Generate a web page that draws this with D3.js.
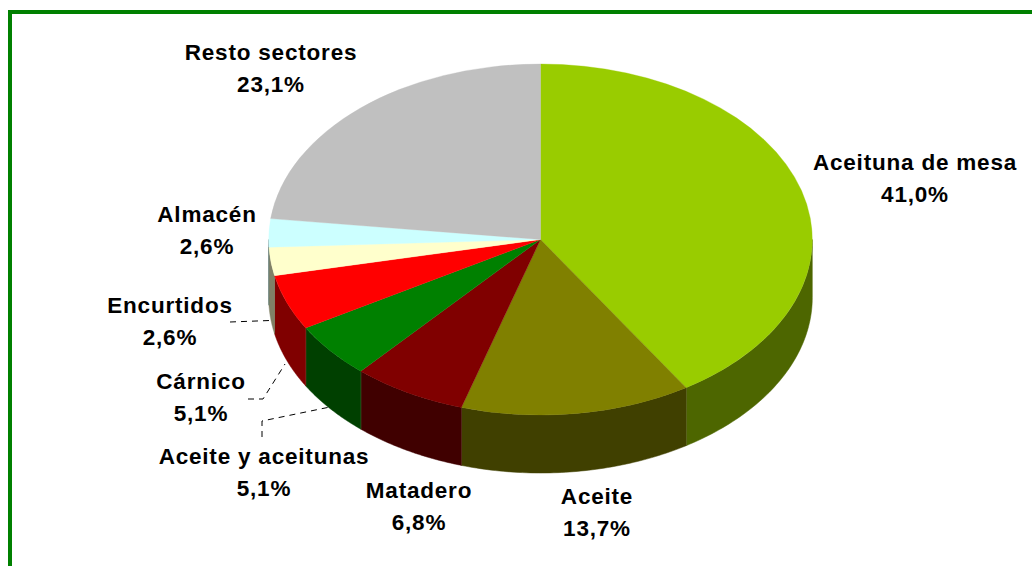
<!DOCTYPE html>
<html><head><meta charset="utf-8">
<script src="https://cdn.jsdelivr.net/npm/d3@7/dist/d3.min.js"></script>
<style>html,body{margin:0;padding:0;background:#fff}svg{display:block}
text{font-family:"Liberation Sans",Arial,sans-serif;font-weight:bold;font-size:22.5px;letter-spacing:0.8px;fill:#000;text-anchor:middle}</style>
</head><body><svg id="c" width="1032" height="566"></svg>
<script>
const categories=["Aceituna de mesa","Aceite","Matadero","Aceite y aceitunas","Cárnico","Encurtidos","Almacén","Resto sectores"];
const values=[41.0,13.7,6.8,5.1,5.1,2.6,2.6,23.1];
const valueLabels=["41,0%","13,7%","6,8%","5,1%","5,1%","2,6%","2,6%","23,1%"];
const topColors=["#99CC00","#808000","#800000","#008000","#FF0000","#FFFFCC","#CCFFFF","#C0C0C0"];
const sideColors=["#4D6600","#404000","#400000","#004000","#800000","#808066","#668080","#606060"];
const labelCenters=[[915,162.5],[597,496.5],[419,490.5],[264,456.5],[201,381.5],[170,305.5],[207,214.5],[271,52.5]];
const leaderLines=[
  [[230,322],[270,320.5]],
  [[248,399],[263,399],[285,364]],
  [[262,437],[262,421],[330,407]]
];
const cx=540.5,cy=239.5,rx=271.8,ry=175.5,depth=58;

const svg=d3.select("#c");
// frame (only the top and left edges are inside the picture)
svg.append("path").attr("d","M10,566V12H1032").attr("fill","none").attr("stroke","#008000").attr("stroke-width",4);

const arcs=d3.pie().sort(null).value(d=>d)(values);
const px=a=>cx+rx*Math.sin(a), py=a=>cy-ry*Math.cos(a);

// outer walls, only where they face the viewer (PI/2 .. 3PI/2 clockwise from top)
const walls=svg.append("g");
arcs.forEach((d,i)=>{
  const a0=Math.max(d.startAngle,Math.PI/2), a1=Math.min(d.endAngle,3*Math.PI/2);
  if(a1<=a0) return;
  const steps=d3.range(0,61).map(k=>a0+(a1-a0)*k/60);
  const line=d3.line();
  const pts=steps.map(a=>[px(a),py(a)]).concat(steps.slice().reverse().map(a=>[px(a),py(a)+depth]));
  walls.append("path").attr("d",line(pts)+"Z").attr("fill",sideColors[i]).attr("stroke",sideColors[i]).attr("stroke-width",0.5);
  if(d.endAngle<3*Math.PI/2 && d.endAngle>Math.PI/2){
    walls.append("path").attr("d",line([[px(a1),py(a1)],[px(a1),py(a1)+depth]]))
      .attr("stroke","#8a8a60").attr("stroke-width",0.6).attr("fill","none");
  }
});

// top faces: a circular pie squashed into the ellipse
const arc=d3.arc().innerRadius(0).outerRadius(rx);
svg.append("g").attr("transform",`translate(${cx},${cy}) scale(1,${ry/rx})`)
  .selectAll("path").data(arcs).join("path")
  .attr("d",arc).attr("fill",(d,i)=>topColors[i]).attr("stroke",(d,i)=>topColors[i]).attr("stroke-width",0.4);

// leader lines
svg.append("g").selectAll("path").data(leaderLines).join("path")
  .attr("d",d3.line()).attr("fill","none").attr("stroke","#000").attr("stroke-width",1).attr("stroke-dasharray","6 5");

// labels
const g=svg.append("g").selectAll("g").data(categories).join("g");
g.append("text").attr("x",(d,i)=>labelCenters[i][0]).attr("y",(d,i)=>labelCenters[i][1]).attr("dy","0.35em").text(d=>d);
g.append("text").attr("x",(d,i)=>labelCenters[i][0]).attr("y",(d,i)=>labelCenters[i][1]+32).attr("dy","0.35em").text((d,i)=>valueLabels[i]);
</script></body></html>
